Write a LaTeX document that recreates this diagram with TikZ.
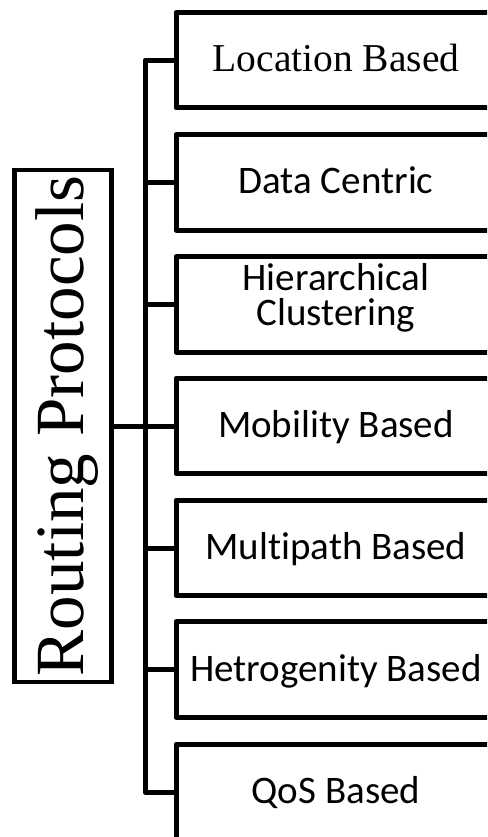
\documentclass[tikz,border=0pt]{standalone}
\usepackage{fontspec}
\setmainfont{Liberation Serif}
\newfontfamily\calib[Ligatures=NoCommon]{Carlito}
\tikzset{
  boxnode/.style={draw, line width=5pt, line join=round, rectangle, outer sep=0pt,
    minimum width=320pt, minimum height=95.5pt, inner sep=0pt,
    font=\calib\fontsize{39}{40}\selectfont},
  oneline/.style={text height=23pt, text depth=0pt},
  conn/.style={line width=5pt, line join=round},
}
\begin{document}
\begin{tikzpicture}[x=1pt,y=-1pt]
\clip (0,0) rectangle (487,837);
\node[boxnode,oneline,font=\fontsize{39.5}{42}\selectfont] (b1) at (336,60.25) {Location Based};
\node[boxnode,oneline] (b2) at (336,182.25) {Data Centric};
\node[boxnode,label={[align=center,font=\calib\fontsize{39}{35}\selectfont,yshift=6.4pt,inner sep=0pt]center:Hierarchical\\Clustering}] (b3) at (336,304.25) {};
\node[boxnode,oneline] (b4) at (336,426) {Mobility Based};
\node[boxnode,oneline] (b5) at (336,548) {Multipath Based};
\node[boxnode,oneline] (b6) at (336,669.5) {Hetrogenity Based};
\node[boxnode,oneline] (b7) at (336,792) {QoS Based};
\node[draw, line width=4.5pt, rectangle, outer sep=0pt, inner sep=0pt, rotate=90,
  minimum width=511.5pt, minimum height=97pt, text height=46pt, text depth=6pt,
  font=\fontsize{69}{70}\selectfont] (rp) at (63,426) {Routing Protocols};
\coordinate (spx) at (145,0);
\draw[conn] (b1.west) -- (b1.west -| spx) -- (b7.west -| spx) -- (b7.west);
\foreach \b in {b2,b3,b4,b5,b6} \draw[conn] (\b.west) -- (\b.west -| spx);
\draw[conn] (rp.south) -- (rp.south -| spx);
\end{tikzpicture}
\end{document}
